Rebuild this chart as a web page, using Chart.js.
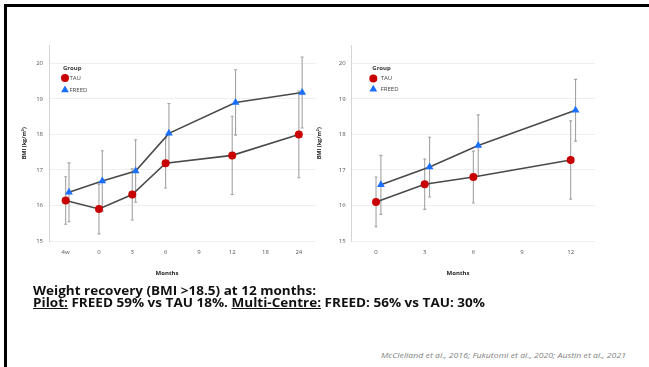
<!DOCTYPE html>
<html>
<head>
<meta charset="utf-8">
<script src="https://cdn.jsdelivr.net/npm/chart.js@4.4.1/dist/chart.umd.min.js"></script>
<style>
  html, body { margin: 0; padding: 0; background: #fff; width: 649px; height: 367px; overflow: hidden; }
  #frame { position: absolute; left: 4px; top: 4px; right: -4px; bottom: -4px; border-top: 3px solid #000; border-left: 3px solid #000; }
  .box { position: absolute; }
  #leftBox { left: 20px; top: 36px; width: 300px; height: 246px; }
  #rightBox { left: 314px; top: 36px; width: 290px; height: 246px; }
  .axisTitle { position: absolute; font: bold 6px "Open Sans"; color: #222; transform: translate(-50%, -50%); white-space: nowrap; }
  .line { position: absolute; left: 33px; font-family: "Open Sans"; font-weight: bold; font-size: 12.5px; line-height: 12px; color: #111; white-space: nowrap; transform-origin: left center; }
  #cite { position: absolute; left: 381px; top: 350px; font: italic 7.5px "Open Sans"; color: #7f7f7f; white-space: nowrap; transform-origin: left center; }
</style>
</head>
<body>
<div id="frame"></div>
<div class="box" id="leftBox"><canvas id="leftChart"></canvas></div>
<div class="box" id="rightBox"><canvas id="rightChart"></canvas></div>
<div class="axisTitle" style="left:167px; top:273px;">Months</div>
<div class="axisTitle" style="left:458px; top:273px;">Months</div>
<div class="line" id="line1" data-w="283" style="top:285px;">Weight recovery (BMI &gt;18.5) at 12 months:</div>
<div class="line" id="line2" data-w="452" style="top:297px;"><u>Pilot:</u> FREED 59% vs TAU 18%. <u>Multi-Centre:</u> FREED: 56% vs TAU: 30%</div>
<div id="cite" data-w="245">McClelland et al., 2016; Fukutomi et al., 2020; Austin et al., 2021</div>
<script>
// ====== DATA ======
const leftLabels = ["4w", "0", "3", "6", "9", "12", "18", "24"];
const leftTau = [16.14, 15.9, 16.31, 17.19, null, 17.41, null, 18.0];
const leftTauErr = [0.67, 0.7, 0.72, 0.7, null, 1.1, null, 1.22];
const leftFreed = [16.37, 16.69, 16.97, 18.03, null, 18.9, null, 19.18];
const leftFreedErr = [0.83, 0.85, 0.88, 0.84, null, 0.92, null, 1.0];

const rightLabels = ["0", "3", "6", "9", "12"];
const rightTau = [16.1, 16.6, 16.8, null, 17.28];
const rightTauErr = [0.7, 0.71, 0.73, null, 1.1];
const rightFreed = [16.58, 17.08, 17.69, null, 18.68];
const rightFreedErr = [0.83, 0.84, 0.86, null, 0.87];

const yTicks = [15, 16, 17, 18, 19, 20];

const TAU_RED = "#c80000";
const FREED_BLUE = "#1a6fff";

// ====== PLUGINS ======
const errorBars = {
  id: "errorBars",
  beforeDatasetsDraw(chart) {
    const { ctx, scales: { x, y } } = chart;
    ctx.save();
    ctx.strokeStyle = "#a3a3a3";
    ctx.lineWidth = 1.1;
    chart.data.datasets.forEach(ds => {
      ds.data.forEach(p => {
        const px = x.getPixelForValue(p.x);
        const top = y.getPixelForValue(p.y + p.err);
        const bot = y.getPixelForValue(p.y - p.err);
        ctx.beginPath();
        ctx.moveTo(px, top); ctx.lineTo(px, bot);
        ctx.moveTo(px - 1.5, top); ctx.lineTo(px + 1.5, top);
        ctx.moveTo(px - 1.5, bot); ctx.lineTo(px + 1.5, bot);
        ctx.stroke();
      });
    });
    ctx.restore();
  }
};

const groupLegend = {
  id: "groupLegend",
  afterDatasetsDraw(chart, args, o) {
    const { ctx, chartArea } = chart;
    const x0 = chartArea.left + o.dx;
    const y0 = chartArea.top + o.dy;
    ctx.save();
    ctx.textBaseline = "middle";
    ctx.fillStyle = "#333";
    ctx.font = 'bold 6px "Open Sans"';
    ctx.fillText("Group", x0, y0);
    chart.data.datasets.forEach((ds, i) => {
      const cy = y0 + o.firstRow + i * o.rowGap;
      ctx.fillStyle = ds.pointBackgroundColor;
      ctx.strokeStyle = ds.pointBackgroundColor;
      Chart.helpers.drawPoint(ctx, { pointStyle: ds.pointStyle, radius: ds.pointRadius, rotation: 0, borderWidth: 0 }, x0 + o.markerDx, cy);
      ctx.fillStyle = "#444";
      ctx.font = '6px "Open Sans"';
      ctx.fillText(ds.label, x0 + o.textDx, cy);
    });
    ctx.restore();
  }
};

// ====== BUILD ======
function points(vals, errs, dodge) {
  return vals
    .map((v, i) => (v === null ? null : { x: i + dodge, y: v, err: errs[i] }))
    .filter(p => p !== null);
}

function makeChart(id, labels, tau, tauErr, freed, freedErr, cfg) {
  return new Chart(document.getElementById(id), {
    type: "line",
    data: {
      datasets: [
        {
          label: "TAU",
          data: points(tau, tauErr, 0),
          borderColor: "#4a4a4a",
          borderWidth: 1.6,
          pointStyle: "circle",
          pointRadius: 4,
          pointBackgroundColor: TAU_RED,
          pointBorderWidth: 0
        },
        {
          label: "FREED",
          data: points(freed, freedErr, 0.1),
          borderColor: "#4a4a4a",
          borderWidth: 1.6,
          pointStyle: "triangle",
          pointRadius: 4.5,
          pointBackgroundColor: FREED_BLUE,
          pointBorderWidth: 0
        }
      ]
    },
    options: {
      responsive: true,
      maintainAspectRatio: false,
      animation: false,
      layout: { padding: cfg.padding },
      plugins: {
        legend: { display: false },
        tooltip: { enabled: false },
        groupLegend: cfg.legend
      },
      scales: {
        x: {
          type: "linear",
          min: -0.5,
          max: labels.length - 0.5,
          afterBuildTicks: s => { s.ticks = labels.map((_, i) => ({ value: i })); },
          ticks: {
            callback: v => labels[v],
            color: "#555",
            font: { size: 6, family: "Open Sans" },
            padding: 8,
            autoSkip: false,
            maxRotation: 0
          },
          grid: { display: false, drawTicks: false },
          border: { display: false },
          afterFit: s => { s.height = 41; }
        },
        y: {
          min: 15,
          max: 20.5,
          afterBuildTicks: s => { s.ticks = yTicks.map(v => ({ value: v })); },
          ticks: { color: "#555", font: { size: 6, family: "Open Sans" }, padding: 6 },
          grid: { color: "#efefef", drawTicks: false },
          border: { color: "#d4d4d4" },
          title: {
            display: true,
            text: "BMI (kg/m²)",
            color: "#222",
            font: { size: 5.5, weight: "bold", family: "Open Sans" },
            padding: { top: cfg.yTitlePad, bottom: 0 }
          },
          afterFit: s => { s.width = cfg.yWidth; }
        }
      }
    },
    plugins: [errorBars, groupLegend]
  });
}

makeChart("leftChart", leftLabels, leftTau, leftTauErr, leftFreed, leftFreedErr, {
  padding: { left: 0, right: 3, top: 6, bottom: 0 },
  yWidth: 29,
  yTitlePad: 1.4,
  legend: { dx: 14, dy: 23, firstRow: 9.5, rowGap: 12, markerDx: 2, textDx: 6.5 }
});

makeChart("rightChart", rightLabels, rightTau, rightTauErr, rightFreed, rightFreedErr, {
  padding: { left: 0, right: 9, top: 6, bottom: 0 },
  yWidth: 37.7,
  yTitlePad: 2.4,
  legend: { dx: 20.6, dy: 23, firstRow: 10, rowGap: 10.7, markerDx: 1, textDx: 8.4 }
});

// ====== TEXT WIDTHS ======
document.querySelectorAll("[data-w]").forEach(el => {
  const w = el.getBoundingClientRect().width;
  el.style.transform = `scaleX(${Number(el.dataset.w) / w})`;
});
</script>
</body>
</html>
